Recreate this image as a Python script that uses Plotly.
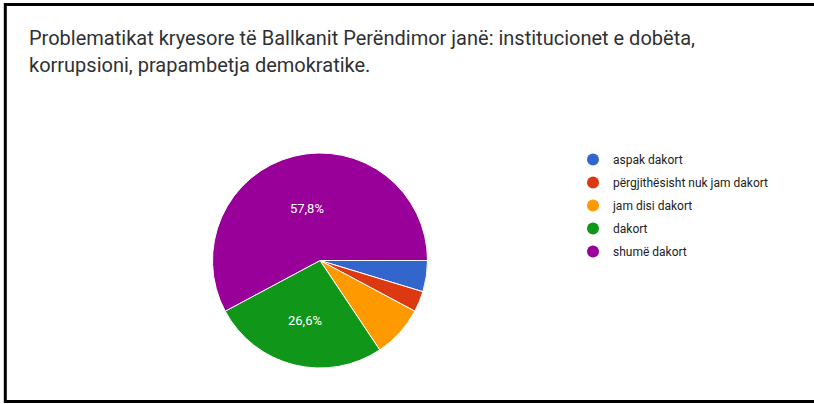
import plotly.graph_objects as go

# survey answers (64 responses)
categories = ['aspak dakort', 'përgjithësisht nuk jam dakort', 'jam disi dakort', 'dakort', 'shumë dakort']
counts = [3, 2, 5, 17, 37]
shown_labels = ['', '', '', '26,6%', '57,8%']
colors = ['#3366cc', '#dc3912', '#ff9900', '#109618', '#990099']

title_lines = ['Problematikat kryesore të Ballkanit Perëndimor janë: institucionet e dobëta,',
               'korrupsioni, prapambetja demokratike.']

W, H = 814, 404

fig = go.Figure()

fig.add_trace(go.Pie(
    labels=categories, values=counts, text=shown_labels,
    textinfo='text', textposition='inside', insidetextorientation='horizontal',
    textfont=dict(family='Roboto, Arial', size=13, color='white'),
    marker=dict(colors=colors, line=dict(color='white', width=1)),
    sort=False, direction='clockwise', rotation=90,
    domain=dict(x=[212 / W, 428 / W], y=[1 - 368 / H, 1 - 153 / H]),
    showlegend=False, hoverinfo='label+percent',
))

# legend with round markers
for i, (name, c) in enumerate(zip(categories, colors)):
    fig.add_trace(go.Scatter(
        x=[None], y=[None], mode='markers', name=name, legendgroup=str(i),
        marker=dict(symbol='circle', size=12, color=c),
    ))

for i, line in enumerate(title_lines):
    fig.add_annotation(
        text=line, x=27 / W, y=1 - (38 + 27 * i) / H, xref='paper', yref='paper',
        xanchor='left', yanchor='middle', align='left', showarrow=False,
        font=dict(family='Roboto, Arial', size=20, color='#303134'),
    )

# screenshot frame (open on the right)
fig.add_shape(type='path', xref='paper', yref='paper',
              path=f'M 1.02 {1 - 4.5 / H} L {5.3 / W} {1 - 4.5 / H} L {5.3 / W} {2.5 / H} L 1.02 {2.5 / H}',
              line=dict(color='black', width=3))

fig.update_layout(
    width=W, height=H, margin=dict(l=0, r=0, t=0, b=0),
    paper_bgcolor='white', plot_bgcolor='white',
    xaxis=dict(visible=False), yaxis=dict(visible=False),
    legend=dict(x=573 / W, y=1 - 145 / H, xanchor='left', yanchor='top',
                font=dict(family='Roboto, Arial', size=12, color='#222222'),
                tracegroupgap=4, itemsizing='constant', bgcolor='rgba(0,0,0,0)'),
)

fig.write_html('out.html', config={'displayModeBar': False},
               post_script="document.body.style.margin='0';")
